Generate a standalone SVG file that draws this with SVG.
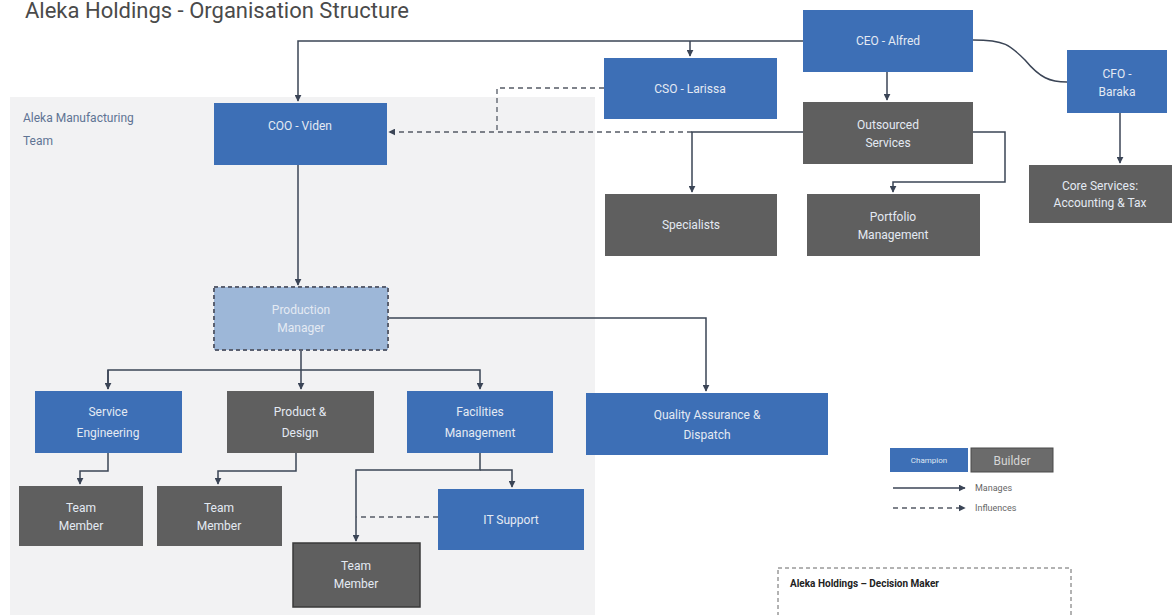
<svg xmlns="http://www.w3.org/2000/svg" width="1176" height="615" viewBox="0 0 1176 615">
<defs>
<style>
.blue{fill:#3d6fb6}
.gray{fill:#5f5f5f}
.t{font-family:Roboto,"Liberation Sans",sans-serif;font-size:12px;fill:#e4eaf3;text-anchor:middle}
.c{fill:none;stroke:#3b4556;stroke-width:1.5}
.d{fill:none;stroke:#555b66;stroke-width:1.3;stroke-dasharray:5 4}
</style>
<marker id="ah" viewBox="0 0 10 10" refX="9" refY="5" markerWidth="7" markerHeight="7" orient="auto" markerUnits="userSpaceOnUse">
<path d="M0,0 L10,5 L0,10 z" fill="#3b4556"/>
</marker>
</defs>
<rect width="1176" height="615" fill="#ffffff"/>
<text x="25" y="18" font-family="Roboto,'Liberation Sans',sans-serif" font-size="22" fill="#4a4a4a">Aleka Holdings - Organisation Structure</text>
<g id="manufacturing-team">
<rect x="10" y="97" width="585" height="520" fill="#f2f2f3"/>
<text x="23" y="122" font-family="Roboto,'Liberation Sans',sans-serif" font-size="12" fill="#5f7494">Aleka Manufacturing</text>
<text x="23" y="145" font-family="Roboto,'Liberation Sans',sans-serif" font-size="12" fill="#5f7494">Team</text>
</g>
<g id="connectors">
<path class="c" d="M803,41 H298 V101" marker-end="url(#ah)"/>
<path class="c" d="M690,41 V56" marker-end="url(#ah)"/>
<path class="c" d="M887,72 V100" marker-end="url(#ah)"/>
<path class="c" d="M973,40 C1005,40 1010,45 1025,60 C1040,78 1050,82 1067,82"/>
<path class="c" d="M1120,113 V163" marker-end="url(#ah)"/>
<path class="d" d="M604,88 H497 V132"/>
<path class="d" d="M692,132 H389" marker-end="url(#ah)"/>
<path class="c" d="M803,132 H692 V192" marker-end="url(#ah)"/>
<path class="c" d="M973,132 H1005 V182 H893 V192" marker-end="url(#ah)"/>
<path class="c" d="M298,165 V285" marker-end="url(#ah)"/>
<path class="c" d="M388,318 H706 V391" marker-end="url(#ah)"/>
<path class="c" d="M301,350 V389" marker-end="url(#ah)"/>
<path class="c" d="M108,389 V370 H480 V389" marker-end="url(#ah)"/>
<path class="c" d="M108,370 V389" marker-end="url(#ah)"/>
<path class="c" d="M108,453 V471 H80 V484" marker-end="url(#ah)"/>
<path class="c" d="M296,453 V471 H218 V484" marker-end="url(#ah)"/>
<path class="c" d="M480,453 V470 H356 V541" marker-end="url(#ah)"/>
<path class="c" d="M480,470 H512 V487" marker-end="url(#ah)"/>
<path class="d" d="M438,517 H356"/>
</g>
<g id="ceo"><rect class="blue" x="803" y="10" width="170" height="62"/><text class="t" x="888" y="45">CEO - Alfred</text></g>
<g id="cso"><rect class="blue" x="604" y="58" width="173" height="61"/><text class="t" x="690" y="93">CSO - Larissa</text></g>
<g id="cfo"><rect class="blue" x="1067" y="50" width="100" height="63"/><text class="t" x="1117" y="78">CFO -</text><text class="t" x="1117" y="96">Baraka</text></g>
<g id="coo"><rect class="blue" x="214" y="103" width="173" height="62"/><text class="t" x="300" y="130">COO - Viden</text></g>
<g id="outsourced"><rect class="gray" x="803" y="102" width="170" height="62"/><text class="t" x="888" y="129">Outsourced</text><text class="t" x="888" y="147">Services</text></g>
<g id="specialists"><rect class="gray" x="605" y="194" width="172" height="62"/><text class="t" x="691" y="229">Specialists</text></g>
<g id="portfolio"><rect class="gray" x="807" y="194" width="173" height="62"/><text class="t" x="893" y="221">Portfolio</text><text class="t" x="893" y="239">Management</text></g>
<g id="core-services"><rect class="gray" x="1029" y="165" width="143" height="58"/><text class="t" x="1100" y="190">Core Services:</text><text class="t" x="1100" y="207">Accounting &amp; Tax</text></g>
<g id="production-manager"><rect x="214" y="287" width="174" height="63" fill="#9db7d8" stroke="#5a6070" stroke-width="2" stroke-dasharray="4 3"/><text class="t" x="301" y="314">Production</text><text class="t" x="301" y="332">Manager</text></g>
<g id="service-engineering"><rect class="blue" x="35" y="391" width="147" height="62"/><text class="t" x="108" y="416">Service</text><text class="t" x="108" y="437">Engineering</text></g>
<g id="product-design"><rect class="gray" x="227" y="391" width="147" height="62"/><text class="t" x="300" y="416">Product &amp;</text><text class="t" x="300" y="437">Design</text></g>
<g id="facilities"><rect class="blue" x="407" y="391" width="146" height="62"/><text class="t" x="480" y="416">Facilities</text><text class="t" x="480" y="437">Management</text></g>
<g id="quality"><rect class="blue" x="586" y="393" width="242" height="62"/><text class="t" x="707" y="419">Quality Assurance &amp;</text><text class="t" x="707" y="439">Dispatch</text></g>
<g id="team-member-1"><rect class="gray" x="19" y="486" width="124" height="60"/><text class="t" x="81" y="512">Team</text><text class="t" x="81" y="530">Member</text></g>
<g id="team-member-2"><rect class="gray" x="157" y="486" width="125" height="60"/><text class="t" x="219" y="512">Team</text><text class="t" x="219" y="530">Member</text></g>
<g id="team-member-3"><rect class="gray" x="293" y="543" width="127" height="64" stroke="#3a3a3a" stroke-width="1.5"/><text class="t" x="356" y="570">Team</text><text class="t" x="356" y="588">Member</text></g>
<g id="it-support"><rect class="blue" x="438" y="489" width="146" height="61"/><text class="t" x="511" y="524">IT Support</text></g>
<g id="legend">
<rect class="blue" x="890" y="448" width="78" height="24"/>
<text x="929" y="463" font-family="Roboto,'Liberation Sans',sans-serif" font-size="8" fill="#dfe7f2" text-anchor="middle">Champion</text>
<rect x="971" y="448" width="82" height="24" fill="#6b6b6b" stroke="#4a4a4a"/>
<text x="1012" y="465" font-family="Roboto,'Liberation Sans',sans-serif" font-size="12" fill="#d6d6d6" text-anchor="middle">Builder</text>
<path class="c" d="M893,488 H965" stroke-width="1" marker-end="url(#ah)"/>
<text x="975" y="491" font-family="Roboto,'Liberation Sans',sans-serif" font-size="9" fill="#666">Manages</text>
<path class="d" d="M893,508 H965" stroke-width="1" stroke-dasharray="3 3" marker-end="url(#ah)"/>
<text x="975" y="511" font-family="Roboto,'Liberation Sans',sans-serif" font-size="9" fill="#666">Influences</text>
</g>
<g id="decision-maker">
<rect x="778" y="568" width="293" height="60" fill="#ffffff" stroke="#666" stroke-width="1" stroke-dasharray="4 3"/>
<text x="790" y="587" font-family="Roboto,'Liberation Sans',sans-serif" font-size="10" font-weight="bold" fill="#222">Aleka Holdings – Decision Maker</text>
</g>
</svg>
